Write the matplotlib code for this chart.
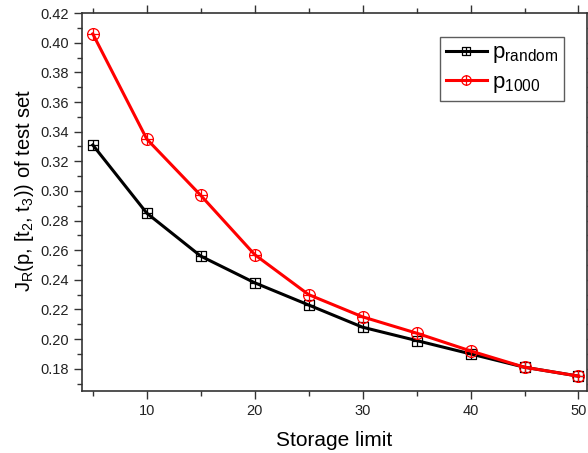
import matplotlib
matplotlib.use("Agg")
import matplotlib.pyplot as plt
from matplotlib.path import Path
from matplotlib.ticker import MultipleLocator, FormatStrFormatter

plt.rcParams['font.family'] = ['Liberation Sans', 'DejaVu Sans']
plt.rcParams['mathtext.fontset'] = 'custom'
plt.rcParams['mathtext.rm'] = 'Liberation Sans'
plt.rcParams['mathtext.it'] = 'Liberation Sans:italic'

storage = [5, 10, 15, 20, 25, 30, 35, 40, 45, 50]
p_random = [0.331, 0.285, 0.256, 0.238, 0.223, 0.208, 0.199, 0.190, 0.181, 0.175]
p_1000 = [0.406, 0.335, 0.297, 0.257, 0.230, 0.215, 0.204, 0.192, 0.181, 0.175]

# square with a cross inside
sq_verts = [(-1, -1), (1, -1), (1, 1), (-1, 1), (-1, -1),
            (0, -1), (0, 1), (-1, 0), (1, 0)]
sq_codes = [Path.MOVETO, Path.LINETO, Path.LINETO, Path.LINETO, Path.CLOSEPOLY,
            Path.MOVETO, Path.LINETO, Path.MOVETO, Path.LINETO]
box_plus = Path(sq_verts, sq_codes)

# circle with a cross inside
cross = Path([(0, -1), (0, 1), (-1, 0), (1, 0)],
             [Path.MOVETO, Path.LINETO, Path.MOVETO, Path.LINETO])
circle_plus = Path.make_compound_path(Path.unit_circle(), cross)

fig = plt.figure(figsize=(5.88, 4.53), dpi=100)
ax = fig.add_axes([0.1395, 0.137, 0.859, 0.834])

ax.plot(storage, p_random, color='black', lw=2.2, marker=box_plus, ms=7.5,
        mfc='none', mec='black', mew=0.9, label=r'p$_\mathrm{random}$')
ax.plot(storage, p_1000, color='red', lw=2.2, marker=circle_plus, ms=8.5,
        mfc='none', mec='red', mew=0.9, label=r'p$_\mathrm{1000}$')

ax.set_xlim(4, 50.8)
ax.set_ylim(0.165, 0.42)
ax.xaxis.set_major_locator(MultipleLocator(10))
ax.xaxis.set_minor_locator(MultipleLocator(5))
ax.yaxis.set_major_locator(MultipleLocator(0.02))
ax.yaxis.set_minor_locator(MultipleLocator(0.01))
ax.yaxis.set_major_formatter(FormatStrFormatter('%.2f'))

ax.tick_params(which='both', direction='out', top=True, right=True,
               labelsize=10.5, color='#333333', labelcolor='#222222', width=1.0)
ax.tick_params(which='major', length=6)
ax.tick_params(which='minor', length=3.5)
for sp in ax.spines.values():
    sp.set_linewidth(1.2)
    sp.set_color('#333333')

ax.set_xlabel('Storage limit', fontsize=15, labelpad=9)
ax.set_ylabel(r'J$_\mathrm{R}$(p, [t$_\mathrm{2}$, t$_\mathrm{3}$)) of test set', fontsize=14.5)
ax.yaxis.set_label_coords(-0.092, 0.53)

leg = ax.legend(loc='upper right', bbox_to_anchor=(0.955, 0.937), fontsize=16,
                frameon=True, fancybox=False, edgecolor='#333333',
                handlelength=1.85, handletextpad=0.25, borderpad=0.25,
                labelspacing=0.3, borderaxespad=0, markerscale=0.8)
leg.get_frame().set_linewidth(1.0)

fig.savefig('out.png', dpi=100)
